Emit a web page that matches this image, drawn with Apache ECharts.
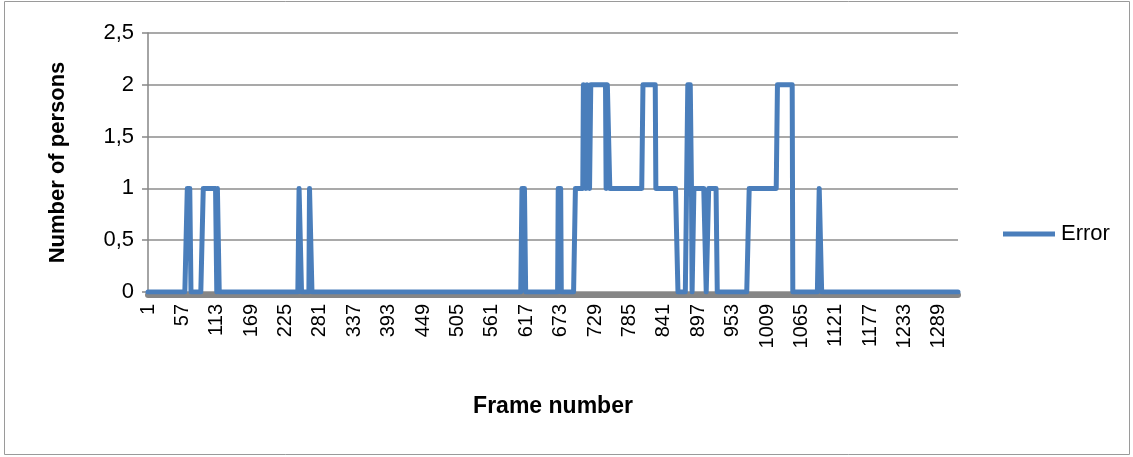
<!DOCTYPE html>
<html>
<head>
<meta charset="utf-8">
<script src="https://cdn.jsdelivr.net/npm/echarts@6/dist/echarts.min.js"></script>
<style>
html,body{margin:0;padding:0;background:#fff;}
#chart{width:1133px;height:457px;}
</style>
</head>
<body>
<div id="chart"></div>
<script>
// ---- data ----
const frameCount = 1320;
// run-length encoded series: value holds from start frame until next start
const runStarts = [1, 65, 71, 91, 113, 114, 117, 247, 251, 264, 268, 610, 616, 669, 674, 697, 710, 714, 716, 720, 722, 747, 749, 753, 807, 828, 864, 880, 886, 887, 890, 910, 914, 928, 980, 1026, 1051, 1094, 1098];
const runValues = [0, 1, 0, 1, 0, 1, 0, 1, 0, 1, 0, 1, 0, 1, 0, 1, 2, 1, 2, 1, 2, 1, 2, 1, 2, 1, 0, 2, 1, 0, 1, 0, 1, 0, 1, 2, 0, 1, 0];
const yTicks = [0, 0.5, 1, 1.5, 2, 2.5];
const seriesName = 'Error';
const xTitle = 'Frame number';
const yTitle = 'Number of persons';

const categories = [];
for (let f = 1; f <= frameCount; f++) categories.push(String(f));
const errorValues = [];
let r = 0;
for (let f = 1; f <= frameCount; f++) {
  while (r + 1 < runStarts.length && runStarts[r + 1] <= f) r++;
  errorValues.push(runValues[r]);
}

const FONT = 'Liberation Sans';
const chart = echarts.init(document.getElementById('chart'), null, {renderer: 'canvas'});
chart.setOption({
  animation: false,
  backgroundColor: '#ffffff',
  grid: {left: 148, right: 175, top: 33, bottom: 165, containLabel: false},
  graphic: [{
    type: 'rect', z: -10,
    shape: {x: 4.5, y: 1.5, width: 1125, height: 453},
    style: {fill: 'none', stroke: '#9a9a9a', lineWidth: 1}
  }],
  legend: {
    data: [{name: seriesName, icon: 'rect'}],
    left: 998, top: 218,
    itemWidth: 52, itemHeight: 5,
    itemGap: 5,
    textStyle: {fontFamily: FONT, fontSize: 22, color: '#000', padding: [0, 0, 0, 1]}
  },
  xAxis: [{
    type: 'category',
    data: categories,
    boundaryGap: false,
    name: xTitle,
    nameLocation: 'middle',
    nameGap: 103,
    nameTextStyle: {fontFamily: FONT, fontSize: 23, fontWeight: 'bold', color: '#000'},
    axisLine: {show: false},
    axisTick: {show: false},
    splitLine: {show: false},
    axisLabel: {
      interval: 55, rotate: 90, margin: 12,
      fontFamily: FONT, fontSize: 20, color: '#000'
    }
  }, {
    type: 'category',
    data: categories,
    boundaryGap: false,
    position: 'bottom',
    offset: 3,
    axisLine: {show: true, lineStyle: {color: '#868686', width: 6}},
    axisTick: {show: false},
    axisLabel: {show: false},
    splitLine: {show: false}
  }],
  yAxis: {
    type: 'value',
    min: 0, max: 2.5, interval: 0.5,
    name: yTitle,
    nameLocation: 'middle',
    nameRotate: 90,
    nameGap: 79,
    nameTextStyle: {fontFamily: FONT, fontSize: 22, fontWeight: 'bold', color: '#000'},
    axisLine: {show: true, lineStyle: {color: '#868686', width: 1.5}},
    axisTick: {show: true, length: 6, lineStyle: {color: '#868686', width: 1.5}},
    splitLine: {show: true, lineStyle: {color: '#8c8c8c', width: 1.5}},
    axisLabel: {
      margin: 14, fontFamily: FONT, fontSize: 22, color: '#000',
      formatter: v => String(v).replace('.', ',')
    }
  },
  series: [{
    name: seriesName,
    type: 'line',
    xAxisIndex: 0,
    data: errorValues,
    symbol: 'none',
    lineStyle: {color: '#4a7ebb', width: 5, join: 'round', cap: 'round'},
    itemStyle: {color: '#4a7ebb'},
    z: 3
  }]
});
</script>
</body>
</html>
